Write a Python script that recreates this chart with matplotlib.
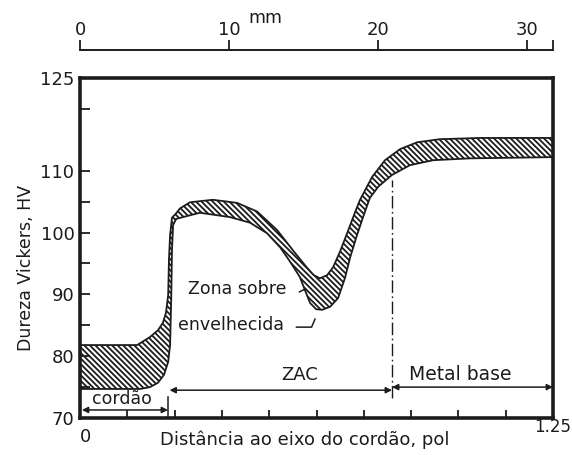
import numpy as np
import matplotlib.pyplot as plt

# faixa de dureza (HV) x distância ao eixo do cordão (pol)
upper_x = [0.0, 0.151, 0.185, 0.206, 0.219, 0.227, 0.233, 0.235, 0.238, 0.243,
           0.254, 0.264, 0.291, 0.351, 0.415, 0.468, 0.521, 0.563, 0.600, 0.618,
           0.634, 0.653, 0.669, 0.687, 0.706, 0.727, 0.740, 0.772, 0.806,
           0.846, 0.891, 0.951, 1.057, 1.25]
upper_y = [81.8, 81.8, 83.1, 84.2, 85.4, 87.0, 89.9, 95.6, 99.6, 102.4,
           103.1, 103.9, 104.9, 105.3, 104.8, 103.4, 100.4, 97.1, 94.3, 93.1,
           92.6, 93.1, 94.4, 96.9, 99.9, 103.3, 105.3, 109.0, 111.7,
           113.5, 114.6, 115.1, 115.3, 115.3]
lower_x = [0.0, 0.159, 0.185, 0.206, 0.222, 0.233, 0.238, 0.241, 0.243, 0.246,
           0.254, 0.272, 0.317, 0.396, 0.449, 0.494, 0.529, 0.555, 0.581, 0.595,
           0.608, 0.624, 0.640, 0.661, 0.682, 0.700, 0.714, 0.730, 0.748, 0.766,
           0.788, 0.824, 0.872, 0.933, 1.031, 1.25]
lower_y = [74.7, 74.7, 75.0, 75.7, 77.0, 79.1, 81.8, 89.1, 97.2, 101.2,
           102.2, 102.5, 103.2, 102.5, 101.6, 99.9, 97.6, 95.3, 92.8, 90.6,
           88.6, 87.6, 87.5, 88.0, 89.4, 92.6, 96.0, 99.2, 102.5, 105.6,
           107.4, 109.3, 110.9, 111.7, 112.0, 112.2]

zones = ['cordão', 'ZAC', 'Metal base']
zone_edges = [0.0, 0.2326, 0.8245, 1.25]

ink = '#1c1c1c'
plt.rcParams['hatch.linewidth'] = 1.3
plt.rcParams['hatch.color'] = ink

fig = plt.figure(figsize=(5.72, 4.55), dpi=100)
ax = fig.add_axes([0.1399, 0.0813, 0.8269, 0.7473])

poly_x = upper_x + lower_x[::-1]
poly_y = upper_y + lower_y[::-1]
ax.fill(poly_x, poly_y, facecolor='white', edgecolor=ink, hatch='\\\\\\\\\\\\',
        linewidth=1.3)

ax.set_xlim(0, 1.25)
ax.set_ylim(70, 125)

for s in ax.spines.values():
    s.set_linewidth(2.6)
    s.set_color(ink)

ax.set_yticks([70, 80, 90, 100, 110, 125])
ax.set_yticklabels(['70', '80', '90', '100', '110', '125'])
ax.set_yticks([75, 85, 95, 105, 120], minor=True)
ax.tick_params(axis='y', which='both', direction='in', length=7, width=1.3,
               color=ink, labelsize=13, labelcolor=ink, pad=4)
ax.set_xticks(np.arange(0, 1.26, 0.125))
ax.set_xticklabels([])
ax.tick_params(axis='x', direction='in', length=6, width=1.3, color=ink)

ax.text(0.012, -0.055, '0', transform=ax.transAxes, ha='center', va='center',
        fontsize=13, color=ink)
ax.text(1.0, -0.025, '1.25', transform=ax.transAxes, ha='center', va='center',
        fontsize=12, color=ink)
ax.text(0.475, -0.065, 'Distância ao eixo do cordão, pol', transform=ax.transAxes,
        ha='center', va='center', fontsize=13, color=ink)
ax.text(-0.115, 0.44, 'Dureza Vickers, HV', transform=ax.transAxes, rotation=90,
        ha='center', va='center', fontsize=12.5, color=ink)

# escala superior em mm
sec = ax.secondary_xaxis(1.082, functions=(lambda v: v * 25.4, lambda v: v / 25.4))
sec.set_xticks([0, 10, 20, 30])
sec.set_xticks([31.75], minor=True)
sec.spines['top'].set_linewidth(1.4)
sec.spines['top'].set_color(ink)
sec.tick_params(which='both', direction='out', length=7, width=1.3, color=ink,
                labelsize=13, labelcolor=ink, pad=1)
ax.text(0.391, 1.176, 'mm', transform=ax.transAxes, ha='center', va='center',
        fontsize=12.5, color=ink)

# zonas
arrow = dict(arrowstyle='<|-|>', color=ink, lw=1.1, mutation_scale=9,
             shrinkA=0, shrinkB=0)
ax.annotate('', xy=(zone_edges[0] + 0.005, 71.3), xytext=(zone_edges[1], 71.3),
            arrowprops=arrow)
ax.annotate('', xy=(zone_edges[1] + 0.004, 74.5), xytext=(zone_edges[2], 74.5),
            arrowprops=arrow)
ax.annotate('', xy=(zone_edges[2], 75.0), xytext=(zone_edges[3], 75.0),
            arrowprops=arrow)
ax.plot([zone_edges[1], zone_edges[1]], [70, 73.4], color=ink, lw=1.1)
ax.plot([zone_edges[2], zone_edges[2]], [73.2, 108.5], color=ink, lw=1.0,
        linestyle=(0, (9, 2.5, 1.2, 2.5)))
ax.text(0.11, 73.0, zones[0], ha='center', va='center', fontsize=12.5, color=ink)
ax.text(0.58, 77.0, zones[1], ha='center', va='center', fontsize=13, color=ink)
ax.text(1.004, 77.0, zones[2], ha='center', va='center', fontsize=13.5, color=ink)

# zona sobre-envelhecida
ax.text(0.285, 90.8, 'Zona sobre', ha='left', va='center', fontsize=12.5, color=ink)
ax.text(0.258, 85.0, 'envelhecida', ha='left', va='center', fontsize=12.5, color=ink)
ax.plot([0.580, 0.596], [90.4, 90.9], color=ink, lw=1.1)
ax.plot([0.572, 0.612, 0.621], [84.7, 84.7, 86.0], color=ink, lw=1.1)

fig.savefig('out.png', dpi=100, facecolor='white')
